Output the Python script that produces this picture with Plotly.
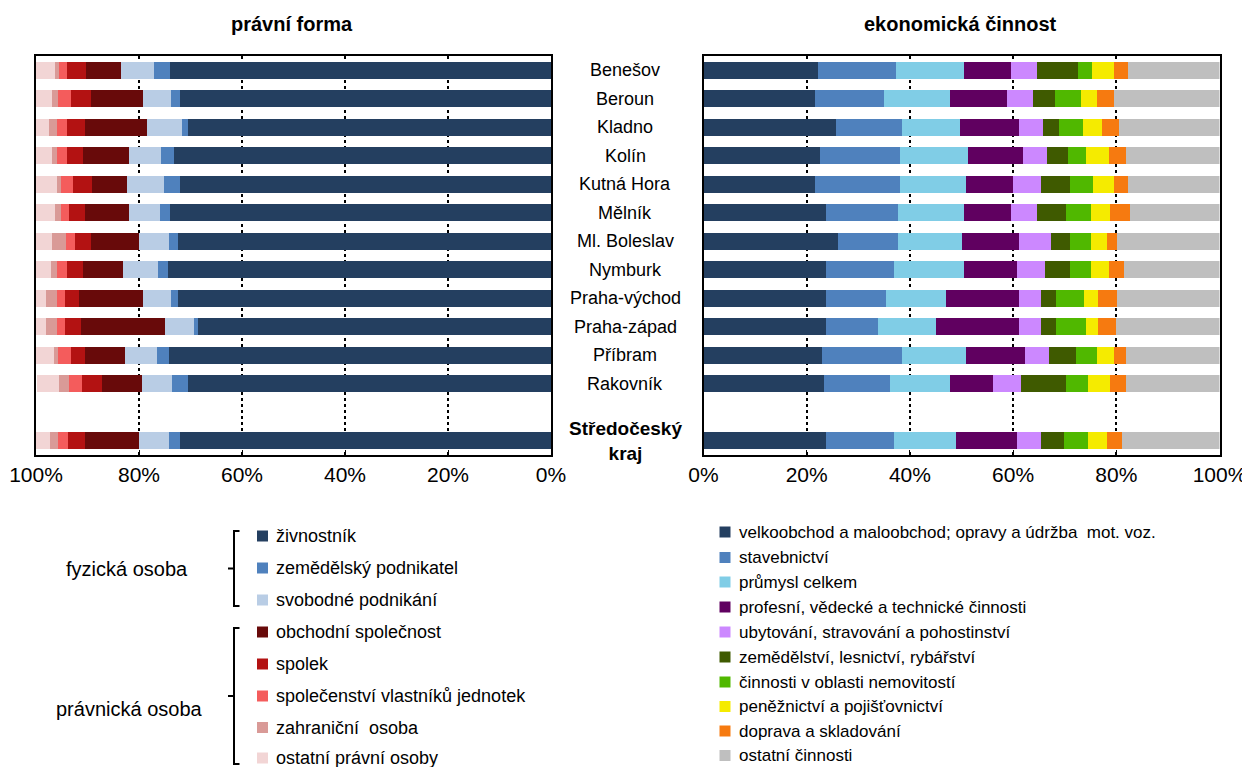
import plotly.graph_objects as go

# ---------------- data ----------------
regions = ["Benešov", "Beroun", "Kladno", "Kolín", "Kutná Hora", "Mělník",
           "Ml. Boleslav", "Nymburk", "Praha-východ", "Praha-západ", "Příbram",
           "Rakovník", "Středočeský kraj"]
spacer = " "
axis_categories = regions[:12] + [spacer] + [regions[12]]

# právní forma (% of subjects)
zivnostnik      = [74.0, 72.1, 70.5, 73.3, 72.1, 74.0, 72.5, 74.4, 72.5, 68.6, 74.1, 70.5, 72.1]
zemedelsky      = [3.1, 1.6, 1.2, 2.4, 3.1, 2.0, 1.6, 2.0, 1.2, 0.8, 2.4, 3.1, 2.0]
svobodne        = [6.3, 5.5, 6.7, 6.3, 7.1, 5.9, 5.9, 6.7, 5.5, 5.5, 6.3, 5.9, 5.9]
obchodni_spol   = [6.9, 10.1, 12.0, 8.9, 6.9, 8.5, 9.3, 7.7, 12.4, 16.3, 7.7, 7.7, 10.5]
spolek          = [3.6, 4.0, 3.5, 3.1, 3.6, 3.2, 3.2, 3.1, 2.8, 3.2, 2.8, 3.9, 3.2]
svj             = [1.6, 2.4, 2.0, 2.0, 2.4, 1.6, 1.6, 2.0, 1.6, 1.6, 2.4, 2.4, 2.0]
zahranicni      = [0.8, 1.2, 1.6, 0.8, 0.8, 1.2, 2.7, 1.2, 2.0, 2.0, 0.8, 2.0, 1.6]
ostatni_pravni  = [3.7, 3.3, 2.5, 3.3, 4.1, 3.7, 3.3, 2.9, 2.1, 2.1, 3.7, 4.4, 2.9]

legal_names = ["živnostník", "zemědělský podnikatel", "svobodné podnikání",
               "obchodní společnost", "spolek", "společenství vlastníků jednotek",
               "zahraniční  osoba", "ostatní právní osoby"]
legal_values = [zivnostnik, zemedelsky, svobodne, obchodni_spol, spolek, svj,
                zahranicni, ostatni_pravni]
legal_colors = ["#243F60", "#4F81BD", "#B9CDE5", "#680A0A", "#B31212",
                "#F45C5C", "#D99A97", "#F2D5D5"]

# ekonomická činnost (% of subjects)
velkoobchod   = [22.1, 21.7, 25.6, 22.5, 21.7, 23.7, 26.0, 23.7, 23.7, 23.7, 22.9, 23.3, 23.7]
stavebnictvi  = [15.2, 13.3, 12.8, 15.6, 16.4, 14.0, 11.7, 13.2, 11.6, 10.1, 15.5, 12.8, 13.2]
prumysl       = [13.2, 12.8, 11.3, 13.1, 12.7, 12.8, 12.4, 13.6, 11.7, 11.2, 12.4, 11.7, 12.0]
profesni      = [9.1, 11.0, 11.5, 10.7, 9.2, 9.1, 11.1, 10.3, 14.2, 16.2, 11.5, 8.4, 11.9]
ubytovani     = [5.0, 5.1, 4.6, 4.7, 5.4, 5.0, 6.1, 5.4, 4.2, 4.2, 4.7, 5.4, 4.6]
zemedelstvi   = [8.0, 4.2, 3.0, 4.1, 5.7, 5.7, 3.8, 4.9, 3.0, 3.0, 5.2, 8.7, 4.5]
nemovitosti   = [2.7, 5.0, 4.7, 3.5, 4.3, 4.7, 3.9, 3.9, 5.4, 5.8, 4.0, 4.3, 4.7]
peneznictvi   = [4.3, 3.1, 3.8, 4.3, 4.2, 3.8, 3.1, 3.5, 2.7, 2.3, 3.4, 4.2, 3.5]
doprava       = [2.6, 3.4, 3.3, 3.4, 2.7, 3.8, 2.1, 3.0, 3.7, 3.5, 2.2, 3.0, 3.0]
ostatni_cinn  = [17.8, 20.4, 19.4, 18.1, 17.7, 17.4, 19.8, 18.5, 19.8, 20.0, 18.2, 18.2, 18.9]

econ_names = ["velkoobchod a maloobchod; opravy a údržba  mot. voz.", "stavebnictví",
              "průmysl celkem", "profesní, vědecké a technické činnosti",
              "ubytování, stravování a pohostinství", "zemědělství, lesnictví, rybářství",
              "činnosti v oblasti nemovitostí", "peněžnictví a pojišťovnictví",
              "doprava a skladování", "ostatní činnosti"]
econ_values = [velkoobchod, stavebnictvi, prumysl, profesni, ubytovani, zemedelstvi,
               nemovitosti, peneznictvi, doprava, ostatni_cinn]
econ_colors = ["#243F60", "#4F81BD", "#80CDE6", "#600060", "#CC88FF", "#3F5A00",
               "#50B800", "#F5EB00", "#F67A10", "#BFBFBF"]

tick_vals = [0, 20, 40, 60, 80, 100]
tick_text = ["0%", "20%", "40%", "60%", "80%", "100%"]

# ---------------- figure ----------------
W, H = 1250, 767
OFF = 8  # page body offset
FONT = "Liberation Sans, Arial, sans-serif"

def px(x):
    return (x - OFF) / W

def py(y):
    return 1 - (y - OFF) / H

fig = go.Figure()

for name, vals, col in zip(legal_names, legal_values, legal_colors):
    fig.add_trace(go.Bar(x=vals, y=regions, orientation="h", name=name,
                         marker=dict(color=col, line=dict(width=0)),
                         xaxis="x", yaxis="y", showlegend=False))

for name, vals, col in zip(econ_names, econ_values, econ_colors):
    fig.add_trace(go.Bar(x=vals, y=regions, orientation="h", name=name,
                         marker=dict(color=col, line=dict(width=0)),
                         xaxis="x2", yaxis="y2", showlegend=False))

xcommon = dict(tickvals=tick_vals, ticktext=tick_text, showgrid=True,
               gridcolor="black", griddash="dot", gridwidth=1.5,
               showline=True, linecolor="black", linewidth=1.5, mirror=True,
               ticks="inside", ticklen=5, tickcolor="black", zeroline=False,
               automargin=False,
               tickfont=dict(family=FONT, size=21, color="black"))
ycommon = dict(type="category", categoryorder="array", categoryarray=axis_categories,
               range=[13.5, -0.5], showticklabels=False, showgrid=False,
               showline=True, linecolor="black", linewidth=1.5, mirror=True,
               ticks="", zeroline=False, automargin=False)

fig.update_layout(
    width=W, height=H,
    margin=dict(l=0, r=0, t=0, b=0, autoexpand=False),
    paper_bgcolor="white", plot_bgcolor="white",
    barmode="stack", bargap=0.42,
    font=dict(family=FONT, color="black"),
    xaxis=dict(domain=[px(36), px(551)], range=[100, 0], anchor="y", **xcommon),
    yaxis=dict(domain=[py(455), py(56)], anchor="x", **ycommon),
    xaxis2=dict(domain=[px(703.5), px(1219.5)], range=[0, 100], anchor="y2", **xcommon),
    yaxis2=dict(domain=[py(455), py(56)], anchor="x2", **ycommon),
)

annotations = []
shapes = []

# titles
annotations.append(dict(text="<b>právní forma</b>", x=px(292), y=py(24), xref="paper",
                        yref="paper", showarrow=False, xanchor="center", yanchor="middle",
                        font=dict(family=FONT, size=20)))
annotations.append(dict(text="<b>ekonomická činnost</b>", x=px(960), y=py(24), xref="paper",
                        yref="paper", showarrow=False, xanchor="center", yanchor="middle",
                        font=dict(family=FONT, size=20)))

# category labels between panels
for r in regions:
    idx = axis_categories.index(r)
    if r == "Středočeský kraj":
        txt, size = "<b>Středočeský<br>kraj</b>", 19
    else:
        txt, size = r, 18
    annotations.append(dict(text=txt, x=px(625), y=idx, xref="paper", yref="y",
                            showarrow=False, xanchor="center", yanchor="middle",
                            font=dict(family=FONT, size=size)))

# left legend
left_leg_y = [536, 568, 600, 632, 664, 696, 727.5, 758]
for name, col, yy in zip(legal_names, legal_colors, left_leg_y):
    shapes.append(dict(type="rect", xref="paper", yref="paper",
                       x0=px(257), x1=px(268), y0=py(yy - 5.5), y1=py(yy + 5.5),
                       fillcolor=col, line=dict(width=0)))
    annotations.append(dict(text=name, x=px(274), y=py(yy), xref="paper", yref="paper",
                            showarrow=False, xanchor="left", yanchor="middle",
                            font=dict(family=FONT, size=18)))

annotations.append(dict(text="fyzická osoba", x=px(127), y=py(569), xref="paper", yref="paper",
                        showarrow=False, xanchor="center", yanchor="middle",
                        font=dict(family=FONT, size=20)))
annotations.append(dict(text="právnická osoba", x=px(129), y=py(709), xref="paper", yref="paper",
                        showarrow=False, xanchor="center", yanchor="middle",
                        font=dict(family=FONT, size=20)))

def bracket(top, bottom, xv=234, xr=239.5, xl=228):
    mid = (top + bottom) / 2
    return (f"M {px(xr)},{py(top)} L {px(xv)},{py(top)} L {px(xv)},{py(bottom)} "
            f"L {px(xr)},{py(bottom)} M {px(xv)},{py(mid)} L {px(xl)},{py(mid)}")

for t, b in [(531, 606), (628, 764)]:
    shapes.append(dict(type="path", xref="paper", yref="paper", path=bracket(t, b),
                       line=dict(color="black", width=2)))

# right legend
right_leg_y = [532, 557.5, 582, 607, 632, 657, 682, 706.5, 731, 755.5]
for name, col, yy in zip(econ_names, econ_colors, right_leg_y):
    shapes.append(dict(type="rect", xref="paper", yref="paper",
                       x0=px(719.5), x1=px(730.5), y0=py(yy - 5.5), y1=py(yy + 5.5),
                       fillcolor=col, line=dict(width=0)))
    annotations.append(dict(text=name, x=px(737), y=py(yy), xref="paper", yref="paper",
                            showarrow=False, xanchor="left", yanchor="middle",
                            font=dict(family=FONT, size=17)))

fig.update_layout(annotations=annotations, shapes=shapes)

fig.write_html("out.html")
